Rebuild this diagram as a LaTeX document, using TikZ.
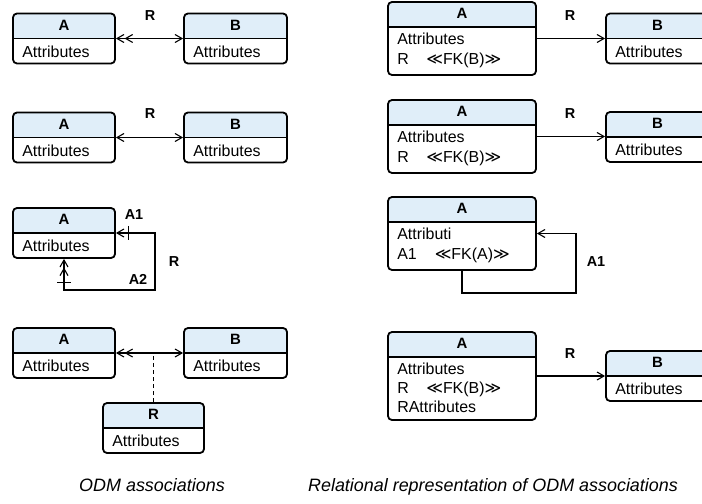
\documentclass[tikz,border=0pt]{standalone}
\usepackage{fontspec}
\setmainfont{Liberation Sans}
\newfontfamily\symfont{DejaVu Sans}
\usetikzlibrary{arrows.meta}
\definecolor{hdrblue}{RGB}{224,238,249}

\tikzset{
  cls/.style 2 args={draw=black, line width=1.8bp, rounded corners=4bp, inner sep=0pt,
    fill=white, minimum width=#1, minimum height=#2,
    path picture={
      \fill[hdrblue, sharp corners] (path picture bounding box.north west)
        rectangle ([yshift=-25bp]path picture bounding box.north east);
      \draw[black, line width=1.5bp, sharp corners]
        ([yshift=-25bp]path picture bounding box.north west)
        -- ([yshift=-25bp]path picture bounding box.north east);
    }},
  hdr/.style={font=\fontsize{15}{17}\selectfont\bfseries, inner sep=0pt},
  body/.style={font=\fontsize{16}{19}\selectfont, inner sep=0pt, anchor=base west},
  lbl/.style={font=\fontsize{14.5}{17}\selectfont\bfseries, inner sep=0pt},
  captext/.style={font=\fontsize{18}{21}\selectfont\itshape, inner sep=0pt, anchor=base},
  conn/.style={draw=black, line width=1.1bp},
  sgl/.style={-{Straight Barb[length=7bp,width=8bp]}},
  bothsgl/.style={{Straight Barb[length=7bp,width=8bp]}-{Straight Barb[length=7bp,width=8bp]}},
  manyone/.style={{Straight Barb[length=7bp,width=8bp] Straight Barb[length=7bp,width=8bp]}-{Straight Barb[length=7bp,width=8bp]}},
}
\newcommand\llg{{\symfont ≪}}
\newcommand\ggg{{\symfont ≫}}

\begin{document}
\begin{tikzpicture}[x=1bp, y=-1bp]
\useasboundingbox (0,0) rectangle (702,504);

% ---------- ODM associations ----------
% binary association, navigable both ways, many on A's side
\node[cls={102bp}{50bp}] (la1) at (64,38.5) {};
\node[hdr] (la1h) at ([yshift=-12.5bp]la1.north) {A};
\node[body] (la1b) at ([xshift=10bp,yshift=-44.5bp]la1.north west) {Attributes};
\node[cls={103bp}{50bp}] (lb1) at (235.5,38.5) {};
\node[hdr] (lb1h) at ([yshift=-12.5bp]lb1.north) {B};
\node[body] (lb1b) at ([xshift=10bp,yshift=-44.5bp]lb1.north west) {Attributes};
\draw[conn, manyone] (la1.east) -- (lb1.west);
\node[lbl] (lr1) at (150,16) {R};

% one-to-one association
\node[cls={102bp}{50bp}] (la2) at (64,137.5) {};
\node[hdr] (la2h) at ([yshift=-12.5bp]la2.north) {A};
\node[body] (la2b) at ([xshift=10bp,yshift=-44.5bp]la2.north west) {Attributes};
\node[cls={103bp}{50bp}] (lb2) at (235.5,137.5) {};
\node[hdr] (lb2h) at ([yshift=-12.5bp]lb2.north) {B};
\node[body] (lb2b) at ([xshift=10bp,yshift=-44.5bp]lb2.north west) {Attributes};
\draw[conn, bothsgl] (la2.east) -- (lb2.west);
\node[lbl] (lr2) at (150,113.5) {R};

% recursive association with roles A1 and A2
\node[cls={102bp}{50bp}] (la3) at (64,233) {};
\node[hdr] (la3h) at ([yshift=-12.5bp]la3.north) {A};
\node[body] (la3b) at ([xshift=10bp,yshift=-44.5bp]la3.north west) {Attributes};
\coordinate (lc3) at (155,290);
\draw[conn, manyone] (la3.south) |- (lc3) |- (la3.east);
\draw[conn] ([xshift=13bp]la3.east) ++(0,-7) -- ++(0,14);
\draw[conn] ([yshift=-24bp]la3.south) ++(-7,0) -- ++(14,0);
\node[lbl] (la3r1) at (134,215) {A1};
\node[lbl] (la3r2) at (138,279) {A2};
\node[lbl] (lr3) at (174,262) {R};

% association with attributes
\node[cls={102bp}{50bp}] (la4) at (64,353) {};
\node[hdr] (la4h) at ([yshift=-12.5bp]la4.north) {A};
\node[body] (la4b) at ([xshift=10bp,yshift=-44.5bp]la4.north west) {Attributes};
\node[cls={103bp}{50bp}] (lb4) at (235.5,353) {};
\node[hdr] (lb4h) at ([yshift=-12.5bp]lb4.north) {B};
\node[body] (lb4b) at ([xshift=10bp,yshift=-44.5bp]lb4.north west) {Attributes};
\draw[conn, manyone] (la4.east) -- (lb4.west);
\node[cls={101bp}{50bp}] (lr4) at (153.5,428) {};
\node[hdr] (lr4h) at ([yshift=-12.5bp]lr4.north) {R};
\node[body] (lr4b) at ([xshift=10bp,yshift=-44.5bp]lr4.north west) {Attributes};
\draw[conn, dash pattern=on 4bp off 3bp] (lr4.north) -- (lr4.north |- la4.east);

\node[captext] (capl) at (152,491) {ODM associations};

% ---------- relational representation ----------
\node[cls={148bp}{73bp}] (ra1) at (462,38.5) {};
\node[hdr] (ra1h) at ([yshift=-12.5bp]ra1.north) {A};
\node[body] (ra1b) at ([xshift=10bp,yshift=-43.5bp]ra1.north west) {Attributes};
\node[body] (ra1c) at ([xshift=10bp,yshift=-63bp]ra1.north west) {R\hspace{17.5bp}\llg FK(B)\ggg};
\node[cls={103bp}{50bp}] (rb1) at (657.5,38.5) {};
\node[hdr] (rb1h) at ([yshift=-12.5bp]rb1.north) {B};
\node[body] (rb1b) at ([xshift=10bp,yshift=-44.5bp]rb1.north west) {Attributes};
\draw[conn, sgl] (ra1.east) -- (ra1.east -| rb1.west);
\node[lbl] (rr1) at (570,16) {R};

\node[cls={148bp}{73bp}] (ra2) at (462,136.5) {};
\node[hdr] (ra2h) at ([yshift=-12.5bp]ra2.north) {A};
\node[body] (ra2b) at ([xshift=10bp,yshift=-43.5bp]ra2.north west) {Attributes};
\node[body] (ra2c) at ([xshift=10bp,yshift=-63bp]ra2.north west) {R\hspace{17.5bp}\llg FK(B)\ggg};
\node[cls={103bp}{50bp}] (rb2) at (657.5,137) {};
\node[hdr] (rb2h) at ([yshift=-12.5bp]rb2.north) {B};
\node[body] (rb2b) at ([xshift=10bp,yshift=-44.5bp]rb2.north west) {Attributes};
\draw[conn, sgl] (ra2.east) -- (ra2.east -| rb2.west);
\node[lbl] (rr2) at (570,114) {R};

\node[cls={148bp}{73bp}] (ra3) at (462,233.5) {};
\node[hdr] (ra3h) at ([yshift=-12.5bp]ra3.north) {A};
\node[body] (ra3b) at ([xshift=10bp,yshift=-43.5bp]ra3.north west) {Attributi};
\node[body] (ra3c) at ([xshift=10bp,yshift=-63bp]ra3.north west) {A1\hspace{18bp}\llg FK(A)\ggg};
\coordinate (rc3) at (576,293);
\draw[conn, sgl] (ra3.south) |- (rc3) |- (ra3.east);
\node[lbl] (rr3) at (596,262) {A1};

\node[cls={148bp}{88bp}] (ra4) at (462,376) {};
\node[hdr] (ra4h) at ([yshift=-12.5bp]ra4.north) {A};
\node[body] (ra4b) at ([xshift=10bp,yshift=-43.5bp]ra4.north west) {Attributes};
\node[body] (ra4c) at ([xshift=10bp,yshift=-62.5bp]ra4.north west) {R\hspace{17.5bp}\llg FK(B)\ggg};
\node[body] (ra4d) at ([xshift=10bp,yshift=-81.5bp]ra4.north west) {RAttributes};
\node[cls={103bp}{50bp}] (rb4) at (657.5,376) {};
\node[hdr] (rb4h) at ([yshift=-12.5bp]rb4.north) {B};
\node[body] (rb4b) at ([xshift=10bp,yshift=-44.5bp]rb4.north west) {Attributes};
\draw[conn, sgl] (ra4.east) -- (ra4.east -| rb4.west);
\node[lbl] (rr4) at (570,353.5) {R};

\node[captext] (capr) at (493,491) {Relational representation of ODM associations};
\end{tikzpicture}
\end{document}
